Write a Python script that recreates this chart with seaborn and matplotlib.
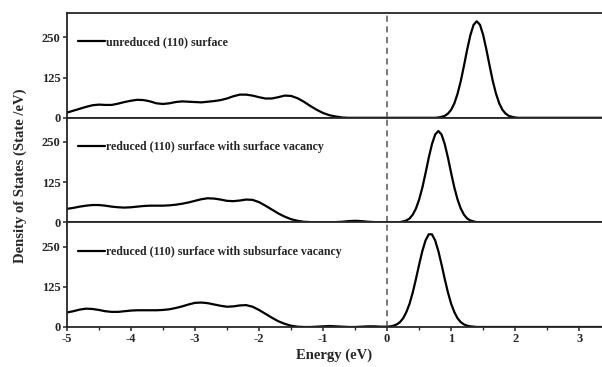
import numpy as np
import pandas as pd
import matplotlib
matplotlib.use("Agg")
import matplotlib.pyplot as plt
import seaborn as sns
from matplotlib.ticker import MultipleLocator

sns.set_style("ticks")
plt.rcParams['font.family'] = ['Liberation Serif', 'DejaVu Serif']
plt.rcParams['font.weight'] = 'bold'
plt.rcParams['axes.unicode_minus'] = False

# energy grid (eV): coarse in the valence band, finer around the gap states
energy = np.round(np.r_[np.arange(-5.0, -0.05, 0.1),
                        np.arange(0.0, 2.11, 0.05),
                        np.arange(2.2, 3.41, 0.1)], 2)

labels = ["unreduced (110) surface",
          "reduced (110) surface with surface vacancy",
          "reduced (110) surface with subsurface vacancy"]

# valence band part, -5.0 ... -0.1
vb_unreduced = [16, 22, 28, 34, 39, 41, 40, 40, 44, 49, 53, 56, 55, 51, 45, 43, 45, 49, 51, 50,
                49, 48, 50, 52, 55, 60, 67, 72, 72, 69, 64, 60, 60, 64, 69, 68, 61, 50, 37, 25,
                15, 8, 4, 1, 0, 0, 0, 0, 0, 0]
vb_surface = [42, 45, 49, 52, 54, 54, 52, 49, 47, 46, 47, 49, 51, 52, 52, 52, 53, 55, 58, 62,
              67, 72, 75, 74, 71, 67, 66, 68, 71, 70, 63, 52, 40, 28, 18, 10, 5, 2, 1, 0,
              0, 0, 1, 2, 4, 5, 4, 2, 1, 0]
vb_subsurface = [45, 49, 54, 57, 56, 53, 49, 47, 47, 49, 51, 52, 52, 52, 52, 53, 55, 59, 64, 70,
                 75, 76, 74, 70, 66, 63, 64, 67, 68, 63, 53, 41, 29, 18, 10, 4, 1, 0, 0, 1,
                 2, 3, 2, 1, 0, 0, 1, 2, 2, 1]

# 0.0 ... 2.1 (step 0.05)
cb_unreduced = [0, 0, 0, 0, 0, 0, 0, 0, 0, 0, 0, 0, 0, 0, 0, 0, 1, 3, 6, 13,
                25, 45, 75, 114, 162, 212, 257, 289, 300, 289, 257, 212, 162, 114, 75, 45, 25, 13, 6, 3,
                1, 0, 0]
cb_surface = [0, 0, 0, 0, 1, 3, 6, 12, 24, 43, 71, 108, 153, 201, 243, 273, 284, 273, 243, 201,
              153, 108, 71, 43, 24, 12, 6, 3, 1, 0, 0, 0, 0, 0, 0, 0, 0, 0, 0, 0,
              0, 0, 0]
cb_subsurface = [1, 2, 4, 8, 15, 27, 46, 72, 107, 149, 194, 236, 269, 288, 288, 269, 236, 194, 149, 107,
                 72, 46, 27, 15, 8, 4, 2, 1, 0, 0, 0, 0, 0, 0, 0, 0, 0, 0, 0, 0,
                 0, 0, 0]

# 2.2 ... 3.4
tail = [0] * 13

series = [vb_unreduced + cb_unreduced + tail,
          vb_surface + cb_surface + tail,
          vb_subsurface + cb_subsurface + tail]

fig, axes = plt.subplots(3, 1, figsize=(6.02, 3.67), dpi=100, sharex=True)
fig.subplots_adjust(left=0.111, right=0.9995, top=0.964, bottom=0.109, hspace=0)

for ax, lab, dos in zip(axes, labels, series):
    df = pd.DataFrame({"E": energy, "DOS": dos})
    sns.lineplot(data=df, x="E", y="DOS", ax=ax, color="black", lw=1.6, label=lab)
    ax.axvline(0, color="#555555", lw=1.1, ls=(0, (4, 3)))
    ax.set_xlim(-5, 3.35)
    ax.set_ylim(0, 325)
    ax.set_yticks([0, 125, 250])
    ax.xaxis.set_minor_locator(MultipleLocator(0.5))
    ax.tick_params(axis='both', which='major', direction='out', length=3, width=1.1,
                   labelsize=9, pad=1.5)
    ax.tick_params(axis='x', which='minor', direction='out', length=2, width=1.0)
    for side in ["left", "bottom", "top"]:
        ax.spines[side].set_linewidth(1.3)
        ax.spines[side].set_visible(True)
    ax.spines["right"].set_visible(False)
    ax.set_ylabel("")
    ax.set_xlabel("")
    for t in ax.get_yticklabels() + ax.get_xticklabels():
        t.set_fontweight("bold")
    ax.legend(loc="center left", frameon=False, handlelength=2.3, handletextpad=0.1,
              borderaxespad=0, borderpad=0, bbox_to_anchor=(0.02, 0.72),
              prop={"weight": "bold", "size": 8.6})

axes[-1].set_xlabel("Energy (eV)", fontsize=10.5, fontweight="bold", labelpad=2)
fig.text(0.033, 0.52, "Density of States (State /eV)", rotation=90,
         ha="center", va="center", fontsize=10.5, fontweight="bold")

fig.savefig("out.png", dpi=100)
